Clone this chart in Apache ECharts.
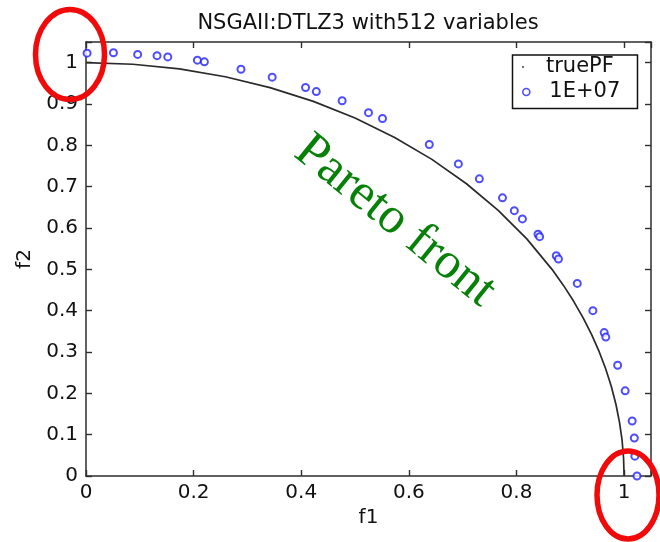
<!DOCTYPE html>
<html>
<head>
<meta charset="utf-8">
<script src="https://cdn.jsdelivr.net/npm/echarts@6/dist/echarts.min.js"></script>
<style>
html,body{margin:0;padding:0;background:#fff;}
#chart{width:660px;height:542px;}
</style>
</head>
<body>
<div id="chart"></div>
<script>
// ---- data ----
const titleText = 'NSGAII:DTLZ3 with512 variables';
const xName = 'f1';
const yName = 'f2';
const seriesNames = ['truePF', '1E+07'];

// true Pareto front (quarter circle) sampled points
const pfF1 = [0, 0.0872, 0.1736, 0.2588, 0.3420, 0.4226, 0.5, 0.5736, 0.6428, 0.7071,
              0.7660, 0.8192, 0.8660, 0.8870, 0.9063, 0.9239, 0.9397, 0.9537, 0.9659,
              0.9763, 0.9848, 0.9914, 0.9962, 0.9990, 1];
const pfF2 = [1, 0.9962, 0.9848, 0.9659, 0.9397, 0.9063, 0.8660, 0.8192, 0.7660, 0.7071,
              0.6428, 0.5736, 0.5, 0.4617, 0.4226, 0.3827, 0.3420, 0.3007, 0.2588,
              0.2164, 0.1736, 0.1305, 0.0872, 0.0436, 0];

// obtained solutions (1E+07 evaluations)
const solF1 = [0.002, 0.051, 0.096, 0.132, 0.152, 0.207, 0.220, 0.288, 0.346, 0.408,
               0.428, 0.476, 0.525, 0.551, 0.638, 0.692, 0.731, 0.774, 0.796, 0.811,
               0.840, 0.843, 0.874, 0.878, 0.913, 0.942, 0.963, 0.966, 0.988, 1.002,
               1.015, 1.019, 1.020, 1.024];
const solF2 = [1.023, 1.024, 1.020, 1.017, 1.014, 1.006, 1.002, 0.984, 0.965, 0.940,
               0.930, 0.908, 0.879, 0.865, 0.802, 0.755, 0.719, 0.673, 0.642, 0.622,
               0.585, 0.579, 0.533, 0.525, 0.466, 0.400, 0.347, 0.336, 0.268, 0.206,
               0.133, 0.092, 0.048, 0.000];

const annotationText = 'Pareto front';

// ---- chart ----
const pfData = pfF1.map((v, i) => [v, pfF2[i]]);
const solData = solF1.map((v, i) => [v, solF2[i]]);

const FONT = 'DejaVu Sans';
const TXT = '#111';
const AX = '#2e2e2e';
const fmt = v => (v > 1.001 ? '' : String(Math.round(v * 10) / 10));

const chart = echarts.init(document.getElementById('chart'), null, {renderer: 'canvas'});

const baseAxis = {
  min: 0, max: 1.05,
  splitLine: {show: false},
  axisLine: {show: true, onZero: false, lineStyle: {color: AX, width: 1.5}},
  axisTick: {show: true, inside: true, length: 6, lineStyle: {color: AX, width: 1.4}},
};

chart.setOption({
  animation: false,
  backgroundColor: '#fff',
  grid: {left: 86, right: 9, top: 42, bottom: 66, containLabel: false, outerBoundsMode: 'none'},
  xAxis: [
    Object.assign({}, baseAxis, {
      type: 'value', position: 'bottom', interval: 0.2,
      name: xName, nameLocation: 'middle', nameGap: 31,
      nameTextStyle: {fontFamily: FONT, fontSize: 20, color: TXT},
      axisLabel: {fontFamily: FONT, fontSize: 20, color: TXT, margin: 7, formatter: fmt}
    }),
    Object.assign({}, baseAxis, {
      type: 'value', position: 'top', interval: 0.2,
      axisLabel: {show: false}
    })
  ],
  yAxis: [
    Object.assign({}, baseAxis, {
      type: 'value', position: 'left', interval: 0.1,
      name: yName, nameLocation: 'middle', nameGap: 48,
      nameTextStyle: {fontFamily: FONT, fontSize: 20, color: TXT},
      axisLabel: {fontFamily: FONT, fontSize: 20, color: TXT, margin: 8, formatter: fmt}
    }),
    Object.assign({}, baseAxis, {
      type: 'value', position: 'right', interval: 0.1,
      axisLabel: {show: false}
    })
  ],
  legend: [
    {
      data: [{name: seriesNames[0], icon: 'circle', itemStyle: {color: '#444', borderWidth: 0}}],
      orient: 'vertical', left: 522, top: 56, padding: 0,
      itemWidth: 36, itemHeight: 2, itemGap: 0,
      textStyle: {fontFamily: FONT, fontSize: 21, color: TXT, lineHeight: 22}
    },
    {
      data: [{name: seriesNames[1], icon: 'circle', itemStyle: {color: '#fff', borderColor: '#2222ff', borderWidth: 1.6}}],
      orient: 'vertical', left: 522, top: 81, padding: 0,
      itemWidth: 36, itemHeight: 7, itemGap: 0,
      textStyle: {fontFamily: FONT, fontSize: 21, color: TXT, lineHeight: 22}
    }
  ],
  graphic: [
    {
      type: 'text', x: 368, y: 24, z: 10,
      style: {text: titleText, fontFamily: FONT, fontSize: 21, fill: TXT, textAlign: 'center', textVerticalAlign: 'middle'}
    },
    {
      type: 'rect', z: 3,
      shape: {x: 512.5, y: 55, width: 125, height: 53.5},
      style: {fill: '#fff', stroke: '#111', lineWidth: 1.5}
    },
    {
      type: 'text', x: 395, y: 221, rotation: -39 * Math.PI / 180, z: 10,
      style: {text: annotationText, fontFamily: 'Liberation Serif', fontSize: 51, fill: '#078007', textAlign: 'center', textVerticalAlign: 'middle'}
    },
    {
      type: 'ellipse', z: 20,
      shape: {cx: 70, cy: 54.5, rx: 34.5, ry: 45},
      style: {fill: null, stroke: '#f00a0a', lineWidth: 5.5}
    },
    {
      type: 'ellipse', z: 20,
      shape: {cx: 628, cy: 495, rx: 31, ry: 44},
      style: {fill: null, stroke: '#f00a0a', lineWidth: 5.5}
    }
  ],
  series: [
    {
      name: seriesNames[0], type: 'line', data: pfData,
      xAxisIndex: 0, yAxisIndex: 0,
      showSymbol: false, symbol: 'none', smooth: false, clip: false,
      lineStyle: {color: '#2a2a2a', width: 1.7},
      itemStyle: {color: '#444'}, z: 2
    },
    {
      name: seriesNames[1], type: 'scatter', data: solData,
      xAxisIndex: 0, yAxisIndex: 0,
      symbol: 'emptyCircle', symbolSize: 7, clip: false,
      itemStyle: {color: '#2222ff', borderColor: '#2222ff', borderWidth: 1.6}, z: 3
    }
  ]
});
</script>
</body>
</html>
